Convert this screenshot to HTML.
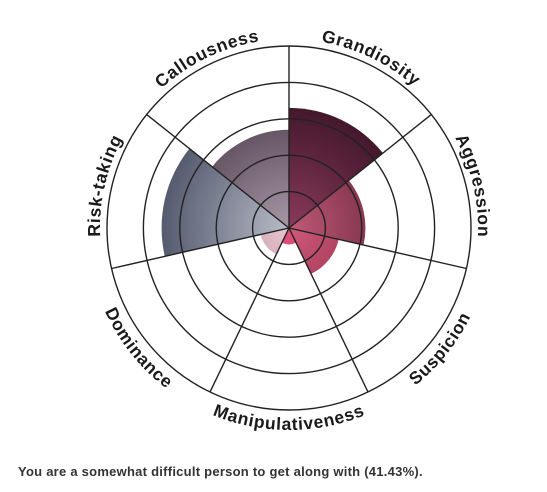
<!DOCTYPE html>
<html><head><meta charset="utf-8"><style>
body{margin:0;background:#fff;width:547px;height:492px;overflow:hidden;}
svg{position:absolute;left:0;top:0;}
.lab{font-family:"Liberation Sans",sans-serif;font-weight:bold;font-size:17.5px;fill:#1a1a1a;letter-spacing:0.7px;}
#caption{position:absolute;left:18px;top:464px;font-family:"Liberation Sans",sans-serif;font-weight:bold;font-size:13px;letter-spacing:0.25px;color:#333;white-space:nowrap;}
</style></head><body>
<svg id="chart" width="547" height="492"><defs id="defs"></defs></svg>
<div id="caption">You are a somewhat difficult person to get along with (41.43%).</div>
<script>
const categories=["Grandiosity","Aggression","Suspicion","Manipulativeness","Dominance","Risk-taking","Callousness"];
const values=[3.3,2.1,1.4,0.45,0.8,3.5,2.7];
const maxValue=5;
const ringLevels=[1,2,3,4,5];
const innerColors=["#8a3a5a","#c05a78","#d05a78","#e0507a","#e8c8d0","#b8bcc8","#a898a8"];
const outerColors=["#3a1426","#5e1e34","#7e2040","#b03058","#a06078","#4e5468","#4e3c4c"];
const cx=289,cy=228,R=182;
const NS="http://www.w3.org/2000/svg";
const svg=document.getElementById('chart'),defs=document.getElementById('defs');
const n=categories.length,step=2*Math.PI/n;
function rScale(v){return v/maxValue*R;}
function pt(a,r){return [cx+r*Math.sin(a),cy-r*Math.cos(a)];}
function mk(t,at){const e=document.createElementNS(NS,t);for(const k in at)e.setAttribute(k,at[k]);return e;}
categories.forEach((c,i)=>{
  const g=mk('radialGradient',{id:'g'+i,gradientUnits:'userSpaceOnUse',cx:cx,cy:cy,r:R*0.75});
  g.appendChild(mk('stop',{offset:'0',"stop-color":innerColors[i]}));
  g.appendChild(mk('stop',{offset:'1',"stop-color":outerColors[i]}));
  defs.appendChild(g);
  const a0=i*step,a1=(i+1)*step,r=rScale(values[i]);
  const p0=pt(a0,r),p1=pt(a1,r);
  const p=mk('path',{d:`M${cx},${cy}L${p0[0]},${p0[1]}A${r},${r} 0 0 1 ${p1[0]},${p1[1]}Z`,fill:`url(#g${i})`});
  
  
  svg.appendChild(p);
});
ringLevels.forEach(l=>{
  const c=mk('circle',{cx:cx,cy:cy,r:rScale(l),fill:'none',stroke:'#222','stroke-width':1.4});
  
  
  svg.appendChild(c);
});
for(let i=0;i<n;i++){
  const p=pt(i*step,R);
  const l=mk('line',{x1:cx,y1:cy,x2:p[0],y2:p[1],stroke:'#222','stroke-width':1.4});
  
  
  svg.appendChild(l);
}
categories.forEach((c,i)=>{
  const mid=(i+0.5)*step,span=step*0.98;
  const a0=mid-span/2,a1=mid+span/2;
  const bottom=Math.cos(mid)<-0.3;
  let d,id='tp'+i;
  if(!bottom){const r=189;const s=pt(a0,r),e=pt(a1,r);d=`M${s[0]},${s[1]}A${r},${r} 0 0 1 ${e[0]},${e[1]}`;}
  else{const r=202;const s=pt(a1,r),e=pt(a0,r);d=`M${s[0]},${s[1]}A${r},${r} 0 0 0 ${e[0]},${e[1]}`;}
  defs.appendChild(mk('path',{id:id,d:d}));
  const t=mk('text',{class:'lab','text-anchor':'middle'});
  
  
  const tp=mk('textPath',{href:'#'+id,startOffset:'50%'});
  tp.textContent=c;t.appendChild(tp);svg.appendChild(t);
});
</script>
</body></html>
